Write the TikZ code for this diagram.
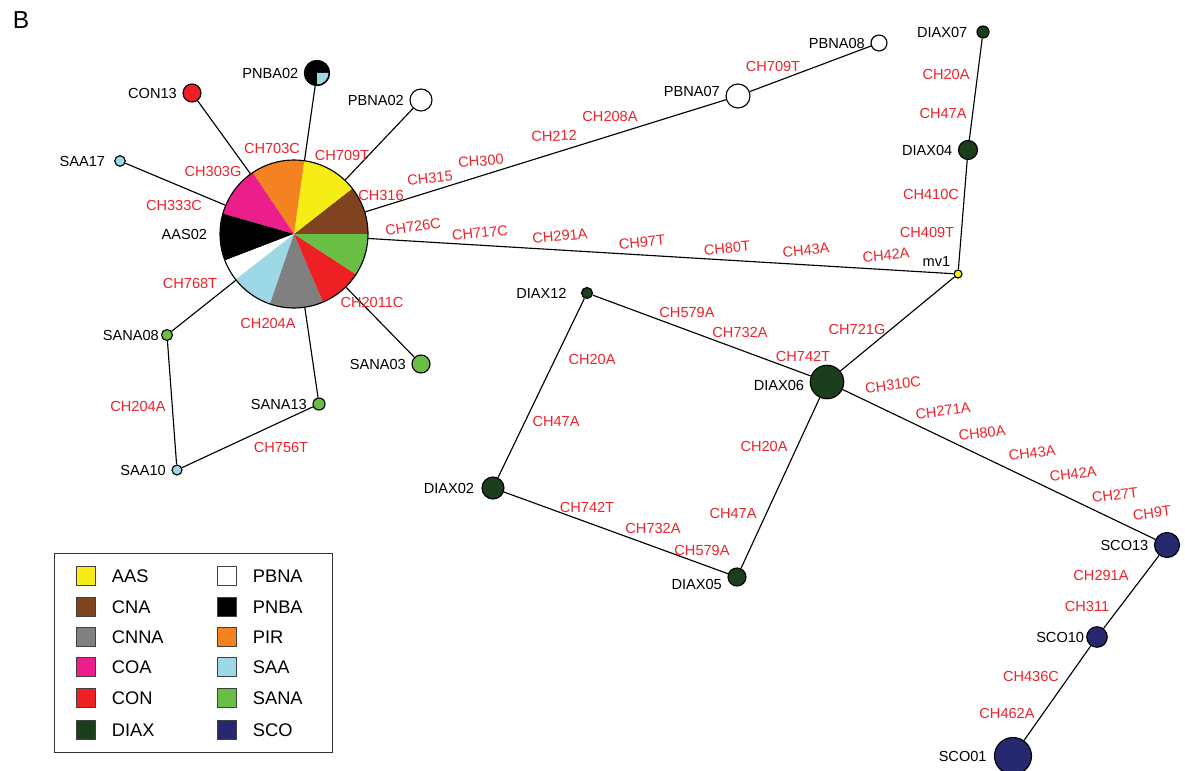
\documentclass[tikz,border=0pt]{standalone}
\usepackage{fontspec}
\setmainfont{Liberation Sans}
\usetikzlibrary{positioning}

\definecolor{hAAS}{RGB}{246,236,22}
\definecolor{hCNA}{RGB}{127,67,32}
\definecolor{hCNNA}{RGB}{128,128,128}
\definecolor{hCOA}{RGB}{236,30,139}
\definecolor{hCON}{RGB}{237,32,36}
\definecolor{hDIAX}{RGB}{27,62,28}
\definecolor{hPIR}{RGB}{244,130,32}
\definecolor{hSAA}{RGB}{156,216,229}
\definecolor{hSANA}{RGB}{106,189,69}
\definecolor{hSCO}{RGB}{38,41,112}
\definecolor{mutred}{RGB}{238,34,44}

\tikzstyle{hap} = [circle, draw=black, line width=0.65pt, inner sep=0pt]
\tikzstyle{mut} = [text=mutred, inner sep=0pt, font=\fontsize{8.3}{10}\selectfont]
\tikzstyle{link} = [line width=0.65pt]
\tikzstyle{key-box} = [draw=black!75, line width=0.6pt, minimum size=0.38cm, inner sep=0pt]
\tikzstyle{key-text} = [inner sep=0pt, font=\fontsize{10.4}{12}\selectfont]

\begin{document}
\begin{tikzpicture}[x=0.02cm, y=-0.02cm, label distance=2pt,
    every label/.style={inner sep=1pt, font=\fontsize{8.3}{10}\selectfont}]
\useasboundingbox (0,0) rectangle (1185,770);
\node[font=\fontsize{14}{16}\selectfont] (panel) at (21,20) {B};

% haplotypes
\node[circle, inner sep=0pt, minimum size=2.96cm, label={[label distance=6pt]left:AAS02}] (pie) at (294,234) {};
\node[hap, fill=black, minimum size=0.5cm, label=left:PNBA02] (pnba02) at (317,73) {};
\node[hap, fill=hCON, minimum size=0.36cm, label=left:CON13] (con13) at (192,93) {};
\node[hap, fill=white, minimum size=0.44cm, label=left:PBNA02] (pbna02) at (421,100) {};
\node[hap, fill=hSAA, minimum size=0.21cm, label={[label distance=4pt]left:SAA17}] (saa17) at (120,161) {};
\node[hap, fill=hSANA, minimum size=0.22cm, label={[label distance=0pt]left:SANA08}] (sana08) at (167,335) {};
\node[hap, fill=hSANA, minimum size=0.36cm, label=left:SANA03] (sana03) at (421,364) {};
\node[hap, fill=hSANA, minimum size=0.24cm, label=left:SANA13] (sana13) at (319,404) {};
\node[hap, fill=hSAA, minimum size=0.2cm, label=left:SAA10] (saa10) at (177,470) {};
\node[hap, fill=white, minimum size=0.48cm, label={[yshift=0.1cm]left:PBNA07}] (pbna07) at (738,96) {};
\node[hap, fill=white, minimum size=0.32cm, label=left:PBNA08] (pbna08) at (879,43) {};
\node[hap, fill=hDIAX, minimum size=0.24cm, label={[label distance=4pt]left:DIAX07}] (diax07) at (983,32) {};
\node[hap, fill=hDIAX, minimum size=0.38cm, label=left:DIAX04] (diax04) at (968,150) {};
\node[hap, fill=hAAS, minimum size=0.16cm, label=above left:mv1] (mv1) at (958,274) {};
\node[hap, fill=hDIAX, minimum size=0.22cm, label={[label distance=7pt]left:DIAX12}] (diax12) at (587,293) {};
\node[hap, fill=hDIAX, minimum size=0.67cm, label={[yshift=-0.07cm]left:DIAX06}] (diax06) at (827,382) {};
\node[hap, fill=hDIAX, minimum size=0.44cm, label={[label distance=3pt]left:DIAX02}] (diax02) at (493,488) {};
\node[hap, fill=hDIAX, minimum size=0.36cm, label={[yshift=-0.14cm]left:DIAX05}] (diax05) at (737,577) {};
\node[hap, fill=hSCO, minimum size=0.5cm, label=left:SCO13] (sco13) at (1167,545) {};
\node[hap, fill=hSCO, minimum size=0.41cm, label={[label distance=0pt]left:SCO10}] (sco10) at (1097,637) {};
\node[hap, fill=hSCO, minimum size=0.74cm, label={[label distance=3pt]left:SCO01}] (sco01) at (1013,756) {};

% links
\draw[link] (pie) -- (con13);
\draw[link] (pie) -- (pnba02);
\draw[link] (pie) -- (pbna02);
\draw[link] (pie) -- (saa17);
\draw[link] (pie) -- (sana08);
\draw[link] (pie) -- (sana13);
\draw[link] (pie) -- (sana03);
\draw[link] (pie) -- (pbna07);
\draw[link] (pie) -- (mv1);
\draw[link] (pbna07) -- (pbna08);
\draw[link] (sana08) -- (saa10) -- (sana13);
\draw[link] (mv1) -- (diax04) -- (diax07);
\draw[link] (mv1) -- (diax06);
\draw[link] (diax06) -- (diax12) -- (diax02) -- (diax05) -- (diax06);
\draw[link] (diax06) -- (sco13) -- (sco10) -- (sco01);

% pie of AAS02
\begin{scope}[shift={(pie.center)}, x=1cm, y=1cm]
\fill[hCNA] (0,0) -- (0:1.48) arc[start angle=0, end angle=38, radius=1.48] -- cycle;
\fill[hAAS] (0,0) -- (38:1.48) arc[start angle=38, end angle=82, radius=1.48] -- cycle;
\fill[hPIR] (0,0) -- (82:1.48) arc[start angle=82, end angle=124, radius=1.48] -- cycle;
\fill[hCOA] (0,0) -- (124:1.48) arc[start angle=124, end angle=164, radius=1.48] -- cycle;
\fill[black] (0,0) -- (164:1.48) arc[start angle=164, end angle=201, radius=1.48] -- cycle;
\fill[white] (0,0) -- (201:1.48) arc[start angle=201, end angle=218, radius=1.48] -- cycle;
\fill[hSAA] (0,0) -- (218:1.48) arc[start angle=218, end angle=251, radius=1.48] -- cycle;
\fill[hCNNA] (0,0) -- (251:1.48) arc[start angle=251, end angle=293, radius=1.48] -- cycle;
\fill[hCON] (0,0) -- (293:1.48) arc[start angle=293, end angle=327, radius=1.48] -- cycle;
\fill[hSANA] (0,0) -- (327:1.48) arc[start angle=327, end angle=360, radius=1.48] -- cycle;
\end{scope}
\draw[line width=0.65pt] (pie.center) circle[radius=1.48cm];

% quarter of PNBA02
\begin{scope}[shift={(pnba02.center)}, x=1cm, y=1cm]
\fill[hSAA] (0,0) -- (0:0.23) arc[start angle=0, end angle=-90, radius=0.23] -- cycle;
\end{scope}
\draw[line width=0.65pt] (pnba02.center) circle[radius=0.25cm];

% mutations
\node[mut] (m703c) at (272,148) {CH703C};
\node[mut] (m709t-a) at (342,155) {CH709T};
\node[mut] (m303g) at (213,171) {CH303G};
\node[mut] (m316) at (381,195) {CH316};
\node[mut] (m333c) at (174,205) {CH333C};
\node[mut, rotate=6] (m315) at (430,178) {CH315};
\node[mut, rotate=4] (m300) at (481,161) {CH300};
\node[mut, rotate=2] (m212) at (554,136) {CH212};
\node[mut] (m208a) at (610,116) {CH208A};
\node[mut] (m709t-b) at (773,66) {CH709T};
\node[mut, rotate=8] (m726c) at (413,227) {CH726C};
\node[mut, rotate=6] (m717c) at (480,233) {CH717C};
\node[mut, rotate=5] (m291a-a) at (560,236) {CH291A};
\node[mut, rotate=5] (m97t) at (642,242) {CH97T};
\node[mut, rotate=5] (m80t) at (727,248) {CH80T};
\node[mut, rotate=5] (m43a-a) at (806,250) {CH43A};
\node[mut, rotate=5] (m42a-a) at (886,255) {CH42A};
\node[mut] (m768t) at (190,283) {CH768T};
\node[mut] (m2011c) at (372,302) {CH2011C};
\node[mut] (m204a-a) at (268,323) {CH204A};
\node[mut] (m204a-b) at (138,406) {CH204A};
\node[mut] (m756t) at (281,447) {CH756T};
\node[mut] (m20a-a) at (946,74) {CH20A};
\node[mut] (m47a-a) at (943,113) {CH47A};
\node[mut] (m410c) at (931,194) {CH410C};
\node[mut] (m409t) at (927,232) {CH409T};
\node[mut] (m579a-a) at (687,312) {CH579A};
\node[mut] (m732a-a) at (740,332) {CH732A};
\node[mut] (m742t-a) at (803,356) {CH742T};
\node[mut] (m721g) at (857,329) {CH721G};
\node[mut] (m20a-b) at (592,359) {CH20A};
\node[mut] (m47a-b) at (556,421) {CH47A};
\node[mut] (m20a-c) at (764,446) {CH20A};
\node[mut] (m47a-c) at (733,513) {CH47A};
\node[mut] (m742t-b) at (587,507) {CH742T};
\node[mut] (m732a-b) at (653,528) {CH732A};
\node[mut] (m579a-b) at (702,550) {CH579A};
\node[mut, rotate=7] (m310c) at (893,385) {CH310C};
\node[mut, rotate=7] (m271a) at (943,411) {CH271A};
\node[mut, rotate=7] (m80a) at (982,433) {CH80A};
\node[mut, rotate=7] (m43a-b) at (1032,453) {CH43A};
\node[mut, rotate=7] (m42a-b) at (1073,474) {CH42A};
\node[mut, rotate=7] (m27t) at (1115,495) {CH27T};
\node[mut, rotate=7] (m9t) at (1152,513) {CH9T};
\node[mut] (m291a-b) at (1101,575) {CH291A};
\node[mut] (m311) at (1087,606) {CH311};
\node[mut] (m436c) at (1031,676) {CH436C};
\node[mut] (m462a) at (1007,713) {CH462A};

% legend
\node[draw=black!80, line width=0.6pt, minimum width=5.56cm, minimum height=3.98cm, inner sep=0pt, anchor=north west] (legend) at (54,553) {};
\node[key-box, fill=hAAS] (k-aas) at (86,576) {};
\node[key-text, right=0.31cm of k-aas] (t-aas) {AAS};
\node[key-box, fill=hCNA] (k-cna) at (86,607) {};
\node[key-text, right=0.31cm of k-cna] (t-cna) {CNA};
\node[key-box, fill=hCNNA] (k-cnna) at (86,637) {};
\node[key-text, right=0.31cm of k-cnna] (t-cnna) {CNNA};
\node[key-box, fill=hCOA] (k-coa) at (86,667) {};
\node[key-text, right=0.31cm of k-coa] (t-coa) {COA};
\node[key-box, fill=hCON] (k-con) at (86,698) {};
\node[key-text, right=0.31cm of k-con] (t-con) {CON};
\node[key-box, fill=hDIAX] (k-diax) at (86,730) {};
\node[key-text, right=0.31cm of k-diax] (t-diax) {DIAX};
\node[key-box, fill=white] (k-pbna) at (227,576) {};
\node[key-text, right=0.31cm of k-pbna] (t-pbna) {PBNA};
\node[key-box, fill=black] (k-pnba) at (227,607) {};
\node[key-text, right=0.31cm of k-pnba] (t-pnba) {PNBA};
\node[key-box, fill=hPIR] (k-pir) at (227,637) {};
\node[key-text, right=0.31cm of k-pir] (t-pir) {PIR};
\node[key-box, fill=hSAA] (k-saa) at (227,667) {};
\node[key-text, right=0.31cm of k-saa] (t-saa) {SAA};
\node[key-box, fill=hSANA] (k-sana) at (227,698) {};
\node[key-text, right=0.31cm of k-sana] (t-sana) {SANA};
\node[key-box, fill=hSCO] (k-sco) at (227,730) {};
\node[key-text, right=0.31cm of k-sco] (t-sco) {SCO};
\end{tikzpicture}
\end{document}
